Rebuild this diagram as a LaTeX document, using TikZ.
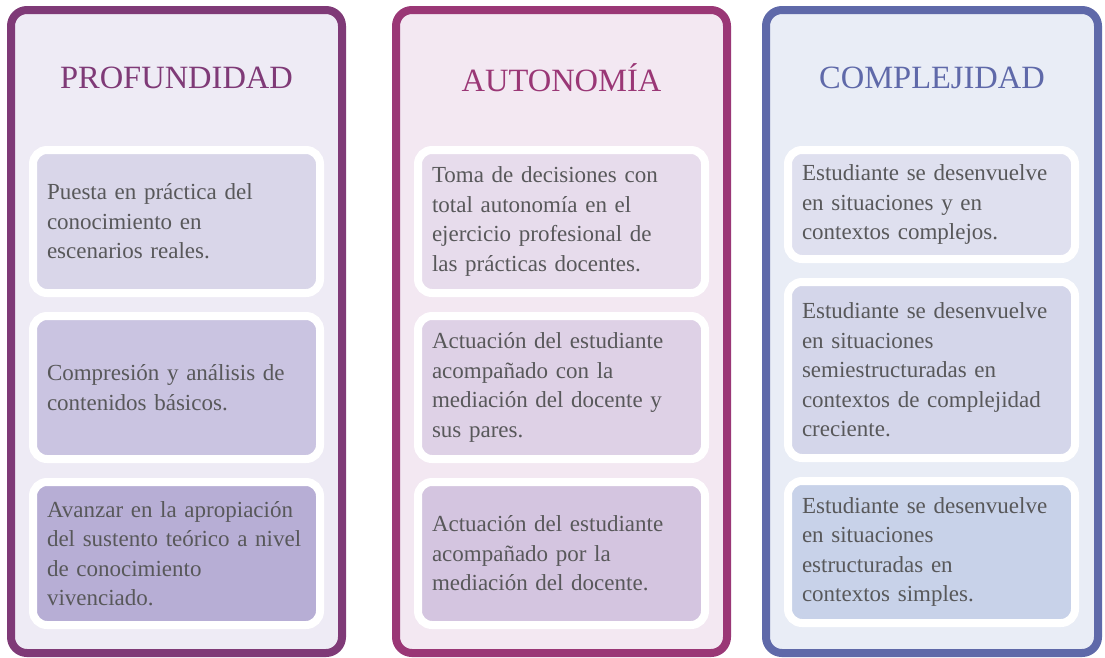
\documentclass[tikz,border=0pt]{standalone}
\usepackage{fontspec}
\setmainfont{Liberation Serif}
\usetikzlibrary{positioning}

\definecolor{profdark}{HTML}{7F3A77}
\definecolor{profbg}{HTML}{EEEBF5}
\definecolor{profa}{HTML}{D9D6E9}
\definecolor{profb}{HTML}{CAC4E1}
\definecolor{profc}{HTML}{B7AED5}
\definecolor{autodark}{HTML}{9A3776}
\definecolor{autobg}{HTML}{F3E8F2}
\definecolor{autoa}{HTML}{E7DCEC}
\definecolor{autob}{HTML}{DED1E6}
\definecolor{autoc}{HTML}{D4C5E0}
\definecolor{compdark}{HTML}{5F69A9}
\definecolor{compbg}{HTML}{E9EDF6}
\definecolor{compa}{HTML}{DFE0EF}
\definecolor{compb}{HTML}{D4D6EA}
\definecolor{compc}{HTML}{C8D2E9}
\definecolor{txtgray}{HTML}{58585A}

\begin{document}
\begin{tikzpicture}[x=1pt,y=-1pt,
	frame/.style={line width=8pt, rounded corners=16pt},
	title/.style={font=\fontsize{32.5}{38}\selectfont},
	cell/.style={draw=white, line width=8pt, rounded corners=14pt,
		minimum width=287pt, text width=259pt, inner sep=0pt, align=left,
		text=txtgray, font=\fontsize{23}{29.5}\selectfont},
	node distance=15pt]
	\useasboundingbox (0,0) rectangle (1105,657);

	% profundidad
	\draw[frame, draw=profdark, fill=profbg] (11,10) rectangle (342,653);
	\node[title, text=profdark] (prof) at (176.5,78) {PROFUNDIDAD};
	\node[cell, fill=profa, minimum height=143pt, anchor=north] (prof1) at (176.5,146)
		{Puesta en práctica del\\conocimiento en\\escenarios reales.};
	\node[cell, fill=profb, minimum height=143pt, below=of prof1] (prof2)
		{Compresión y análisis de\\contenidos básicos.};
	\node[cell, fill=profc, minimum height=143pt, below=of prof2] (prof3)
		{Avanzar en la apropiación\\del sustento teórico a nivel\\de conocimiento\\vivenciado.};

	% autonomia
	\draw[frame, draw=autodark, fill=autobg] (396,10) rectangle (727,653);
	\node[title, text=autodark] (auto) at (561.5,78) {AUTONOMÍA};
	\node[cell, fill=autoa, minimum height=143pt, anchor=north] (auto1) at (561.5,146)
		{Toma de decisiones con\\total autonomía en el\\ejercicio profesional de\\las prácticas docentes.};
	\node[cell, fill=autob, minimum height=143pt, below=of auto1] (auto2)
		{Actuación del estudiante\\acompañado con la\\mediación del docente y\\sus pares.};
	\node[cell, fill=autoc, minimum height=143pt, below=of auto2] (auto3)
		{Actuación del estudiante\\acompañado por la\\mediación del docente.};

	% complejidad
	\draw[frame, draw=compdark, fill=compbg] (766,10) rectangle (1098,653);
	\node[title, text=compdark] (comp) at (932,78) {COMPLEJIDAD};
	\node[cell, fill=compa, minimum height=109pt, anchor=north] (comp1) at (931.5,146)
		{Estudiante se desenvuelve\\en situaciones y en\\contextos complejos.};
	\node[cell, fill=compb, minimum height=176pt, below=of comp1] (comp2)
		{Estudiante se desenvuelve\\en situaciones\\semiestructuradas en\\contextos de complejidad\\creciente.};
	\node[cell, fill=compc, minimum height=142pt, below=of comp2] (comp3)
		{Estudiante se desenvuelve\\en situaciones\\estructuradas en\\contextos simples.};

\end{tikzpicture}
\end{document}
